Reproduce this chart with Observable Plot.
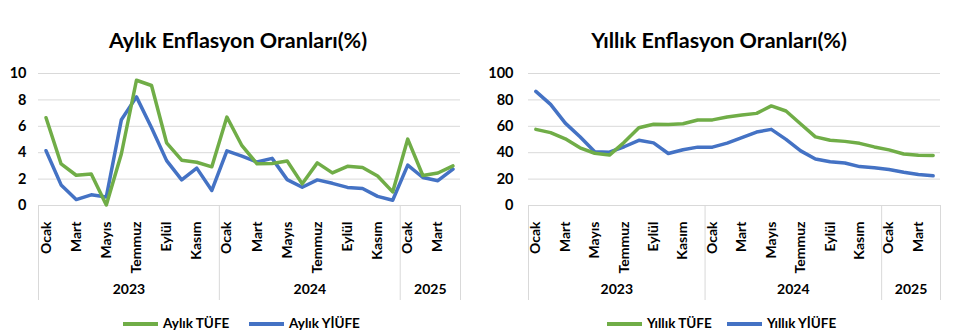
<!DOCTYPE html>
<html><head><meta charset="utf-8">
<script src="https://cdn.jsdelivr.net/npm/d3@7"></script>
<script src="https://cdn.jsdelivr.net/npm/@observablehq/plot@0.6"></script>
<style>
html,body{margin:0;padding:0;background:#fff;}
body{width:960px;height:334px;overflow:hidden;position:relative;font-family:Lato,"Open Sans",sans-serif;color:#000;}
.panel{position:absolute;top:0;width:480px;height:334px;}
.title{position:absolute;top:26px;width:100%;text-align:center;font-weight:bold;font-size:21.5px;line-height:28px;}
.chart{position:absolute;top:60px;left:0;}
.leg{position:absolute;top:314px;height:18px;font-weight:bold;font-size:13.5px;line-height:18px;white-space:nowrap;}
.leg span.sw{display:inline-block;width:35px;height:4px;vertical-align:middle;margin-right:5px;position:relative;top:-1px;}
</style>
</head><body>
<div class="panel" id="left" style="left:0">
  <div class="title" style="left:-2px">Aylık Enflasyon Oranları(%)</div>
  <div class="chart" id="c1"></div>
  <div class="leg" style="left:123px"><span class="sw" style="background:#70ad47"></span>Aylık TÜFE</div>
  <div class="leg" style="left:249px"><span class="sw" style="background:#4472c4"></span>Aylık YİÜFE</div>
</div>
<div class="panel" id="right" style="left:480px">
  <div class="title" style="left:-1px">Yıllık Enflasyon Oranları(%)</div>
  <div class="chart" id="c2"></div>
  <div class="leg" style="left:127px"><span class="sw" style="background:#70ad47"></span>Yıllık TÜFE</div>
  <div class="leg" style="left:247px"><span class="sw" style="background:#4472c4"></span>Yıllık YİÜFE</div>
</div>
<script>
const monthNames = ["Ocak","Şubat","Mart","Nisan","Mayıs","Haziran","Temmuz","Ağustos","Eylül","Ekim","Kasım","Aralık"];
const categories = [...monthNames, ...monthNames, "Ocak","Şubat","Mart","Nisan"];
const years = ["2023","2024","2025"];
const yearStarts = [0, 12, 24, 28];

const monthlyCPI = [6.65,3.15,2.29,2.39,0.04,3.92,9.49,9.09,4.75,3.43,3.28,2.93,
                    6.70,4.53,3.16,3.18,3.37,1.64,3.23,2.47,2.97,2.88,2.24,1.03,
                    5.03,2.27,2.46,3.00];
const monthlyPPI = [4.15,1.56,0.45,0.81,0.65,6.50,8.23,5.89,3.40,1.94,2.83,1.14,
                    4.14,3.74,3.29,3.57,1.96,1.38,1.94,1.68,1.37,1.29,0.69,0.40,
                    3.06,2.12,1.88,2.76];
const annualCPI = [57.68,55.18,50.51,43.68,39.59,38.21,47.83,58.94,61.53,61.36,61.98,64.77,
                   64.86,67.07,68.50,69.80,75.45,71.60,61.78,51.97,49.38,48.58,47.09,44.38,
                   42.12,39.05,38.10,37.86];
const annualPPI = [86.46,76.61,62.43,52.11,40.76,40.42,44.50,49.41,47.44,39.39,42.25,44.22,
                   44.20,47.29,51.47,55.66,57.68,50.09,41.37,35.17,33.09,32.24,29.47,28.52,
                   27.20,25.21,23.50,22.50];
const monthlyTicks = [0,2,4,6,8,10];
const annualTicks = [0,20,40,60,80,100];

function makeChart(cpi, ppi, yMax, yTicks, marginLeft, tickPad) {
  const rows = categories.map((c, i) => ({x: i + 0.5, cat: c, cpi: cpi[i], ppi: ppi[i]}));
  const labelTicks = d3.range(0, categories.length, 2).map(i => i + 0.5);
  const yearCenters = years.map((y, i) => (yearStarts[i] + yearStarts[i + 1]) / 2);
  return Plot.plot({
    width: 480,
    height: 250,
    marginTop: 13,
    marginBottom: 105,
    marginLeft: marginLeft,
    marginRight: 20,
    style: {fontFamily: "Lato, 'Open Sans', sans-serif", fontWeight: "bold", color: "#000", background: "transparent"},
    x: {domain: [0, categories.length], label: null},
    y: {domain: [0, yMax], label: null},
    marks: [
      Plot.gridY(yTicks, {stroke: "#d9d9d9", strokeOpacity: 1, strokeWidth: 1}),
      Plot.axisY(yTicks, {tickSize: 0, tickPadding: tickPad, fontSize: 14.5, label: null}),
      Plot.axisX(yearStarts, {tickSize: 95, stroke: "#d9d9d9", strokeOpacity: 1, tickFormat: () => "", label: null}),
      Plot.axisX(labelTicks, {tickSize: 0, tickPadding: 16, tickRotate: -90, fontSize: 14,
        tickFormat: d => categories[Math.floor(d)], label: null}),
      Plot.axisX(yearCenters, {tickSize: 0, tickPadding: 79, fontSize: 14,
        tickFormat: d => years[yearCenters.indexOf(d)], label: null}),
      Plot.line(rows, {x: "x", y: "ppi", stroke: "#4472c4", strokeWidth: 3.5, strokeLinejoin: "round", strokeLinecap: "round"}),
      Plot.line(rows, {x: "x", y: "cpi", stroke: "#70ad47", strokeWidth: 3.5, strokeLinejoin: "round", strokeLinecap: "round"})
    ]
  });
}

document.getElementById("c1").append(makeChart(monthlyCPI, monthlyPPI, 10, monthlyTicks, 38, 12));
document.getElementById("c2").append(makeChart(annualCPI, annualPPI, 100, annualTicks, 48, 15));
</script>
</body></html>
